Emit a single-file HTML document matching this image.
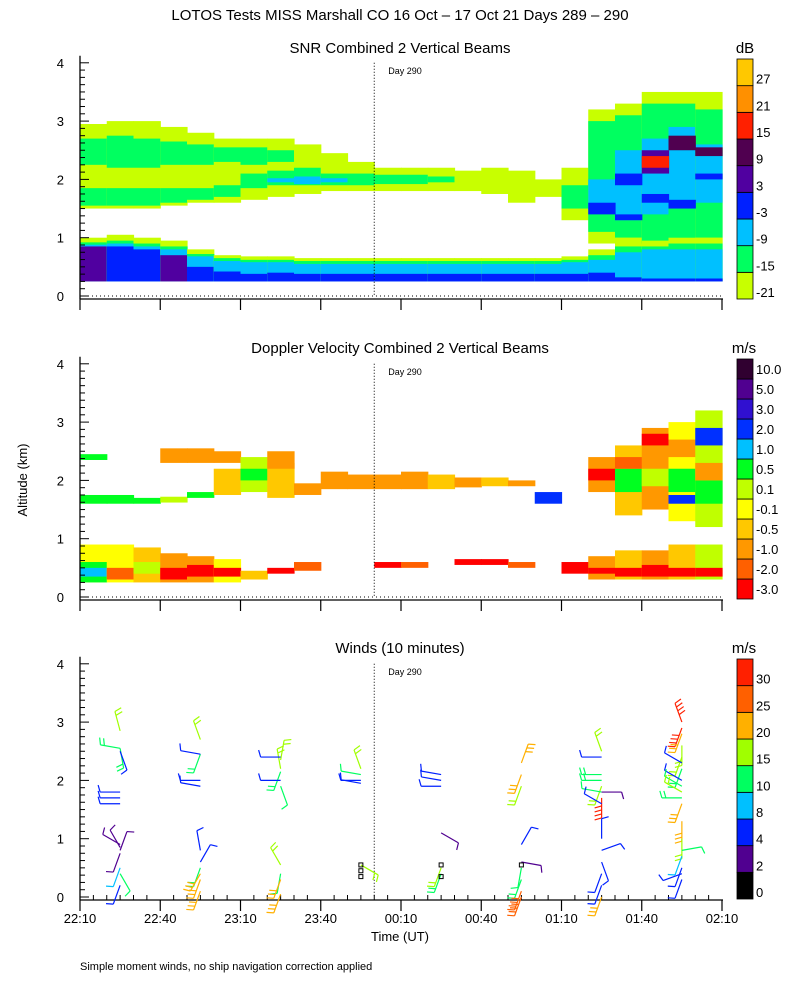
<!DOCTYPE html>
<html><head><meta charset="utf-8"><style>
html,body{margin:0;padding:0;background:#fff;}
svg{display:block;font-family:"Liberation Sans",sans-serif;}
</style></head><body>
<svg id="c" width="800" height="1000" viewBox="0 0 800 1000" xmlns="http://www.w3.org/2000/svg">
<text x="400" y="20" text-anchor="middle" font-size="15">LOTOS Tests MISS Marshall CO  16 Oct – 17 Oct 21 Days 289 – 290</text>
<text x="400" y="53" text-anchor="middle" font-size="15">SNR Combined 2 Vertical Beams</text>
<text x="400" y="353" text-anchor="middle" font-size="15">Doppler Velocity Combined 2 Vertical Beams</text>
<text x="400" y="653" text-anchor="middle" font-size="15">Winds (10 minutes)</text>
<text x="745" y="53" text-anchor="middle" font-size="15">dB</text>
<text x="744" y="353" text-anchor="middle" font-size="15">m/s</text>
<text x="744" y="653" text-anchor="middle" font-size="15">m/s</text>
<text transform="translate(27,480) rotate(-90)" text-anchor="middle" font-size="13">Altitude (km)</text>
<text x="400" y="941" text-anchor="middle" font-size="13">Time (UT)</text>
<text x="80" y="970" font-size="11">Simple moment winds, no ship navigation correction applied</text>
<g id="g"></g>
</svg>
<script>
// ---------- axes data ----------
const xTickLabels = ["22:10","22:40","23:10","23:40","00:10","00:40","01:10","01:40","02:10"];
const altTicks = [0,1,2,3,4];
const snrBarLabels = ["27","21","15","9","3","-3","-9","-15","-21"];
const dopBarLabels = ["10.0","5.0","3.0","2.0","1.0","0.5","0.1","-0.1","-0.5","-1.0","-2.0","-3.0"];
const windBarLabels = ["30","25","20","15","10","8","4","2","0"];
const windSpeedEdges = [2,4,8,10,15,20,25,30];

// ---------- SNR field (10-min columns starting 22:10) ----------
const snrBaseTop  = [1.0,1.05,1.0,0.95,0.8,0.7,0.68,0.68,0.65,0.65,0.65,0.65,0.65,0.65,0.65,0.65,0.65,0.65,0.68,0.8,1.0,0.95,1.0,1.0];
const snrBase1Top = [0.92,0.95,0.9,0.85,0.72,0.65,0.62,0.62,0.6,0.6,0.6,0.6,0.6,0.6,0.6,0.6,0.6,0.6,0.62,0.7,0.85,0.85,0.9,0.9];
const snrBase2Top = [0.88,0.9,0.85,0.8,0.68,0.6,0.58,0.58,0.55,0.55,0.55,0.55,0.55,0.55,0.55,0.55,0.55,0.55,0.58,0.62,0.75,0.8,0.8,0.8];
const snrBase3Top = [0.85,0.85,0.8,0.7,0.5,0.42,0.38,0.4,0.38,0.38,0.38,0.38,0.38,0.38,0.38,0.38,0.38,0.38,0.38,0.4,0.32,0.3,0.3,0.3];
const snrBase3Lev = [4,3,3,4,3,3,3,3,3,3,3,3,3,3,3,3,3,3,3,3,3,3,3,3];
const snrEnvBot = [1.5,1.5,1.5,1.55,1.6,1.6,1.65,1.7,1.75,1.8,1.8,1.8,1.8,1.8,1.8,1.75,1.6,1.7,1.3,0.9,0.9,0.8,0.8,0.9];
const snrEnvTop = [2.95,3.0,3.0,2.9,2.8,2.7,2.7,2.7,2.6,2.45,2.3,2.2,2.2,2.2,2.15,2.2,2.15,2.0,2.2,3.2,3.3,3.5,3.5,3.5];
const snrInBot  = [1.55,1.55,1.55,1.6,1.65,1.7,1.85,1.9,1.9,1.9,1.9,1.92,1.92,1.95,0,0,0,0,1.5,1.1,1.0,0.9,0.9,1.0];
const snrInTop  = [1.85,1.85,1.85,1.85,1.85,1.9,2.1,2.15,2.2,2.1,2.1,2.08,2.08,2.05,0,0,0,0,1.9,3.0,3.1,3.3,3.3,3.2];
const snrIn2Bot = [2.25,2.2,2.2,2.25,2.25,2.3,2.25,2.3,0,0,0,0,0,0,0,0,0,0,0,0,0,0,0,0];
const snrIn2Top = [2.7,2.75,2.7,2.65,2.6,2.55,2.55,2.5,0,0,0,0,0,0,0,0,0,0,0,0,0,0,0,0];
const snrCoreBot = [0,0,0,0,0,0,0,1.95,1.92,1.95,0,0,0,0,0,0,0,0,0,1.5,1.3,1.4,1.5,1.6];
const snrCoreTop = [0,0,0,0,0,0,0,2.02,2.05,2.02,0,0,0,0,0,0,0,0,0,2.0,2.5,2.7,2.9,2.6];
const snrSpotCol = [19,20,20,21,21,21,22,22,23,23];
const snrSpotBot = [1.4,1.9,1.3,2.1,2.2,1.6,2.5,1.5,2.4,2.0];
const snrSpotTop = [1.6,2.1,1.4,2.5,2.4,1.75,2.75,1.65,2.55,2.1];
const snrSpotLev = [3,3,3,4,6,3,5,3,5,3];

// ---------- Doppler field ----------
const dopCol = [0,0,1,2,3,4, 3,4,5,5,6,6,7,7,8, 9,10,11,12,13,14,15,16,17,
  19,19,20,20,20,21,21,21,22,22,22,22,23,23,23,23,
  0,0,0,1,1,2,2,3,3,4,4,5,5,6, 7,8,11,12,14,15,16,18, 19,19,20,20,21,21,22,22,23,23];
const dopBot = [2.35,1.6,1.6,1.6,1.62,1.7, 2.3,2.3,2.3,1.75,1.8,2.0,1.7,2.2,1.75, 1.85,1.85,1.85,1.85,1.85,1.88,1.9,1.9,1.6,
  1.8,2.0,1.4,1.8,2.2,1.5,1.9,2.6,1.3,1.8,2.4,1.6,1.2,1.6,2.6,2.0,
  0.25,0.25,0.35,0.25,0.3,0.25,0.4,0.25,0.3,0.25,0.35,0.25,0.35,0.3, 0.4,0.45,0.5,0.5,0.55,0.55,0.5,0.4, 0.3,0.4,0.3,0.35,0.3,0.35,0.3,0.35,0.3,0.35];
const dopTop = [2.45,1.75,1.75,1.7,1.72,1.8, 2.55,2.55,2.5,2.2,2.4,2.2,2.3,2.5,1.95, 2.15,2.1,2.1,2.15,2.1,2.05,2.05,2.0,1.8,
  2.4,2.2,2.6,2.2,2.4,2.9,2.2,2.8,3.0,2.2,2.7,1.75,3.2,2.0,2.9,2.3,
  0.9,0.6,0.5,0.9,0.5,0.85,0.6,0.75,0.5,0.7,0.55,0.65,0.5,0.45, 0.5,0.6,0.6,0.6,0.65,0.65,0.6,0.6, 0.7,0.5,0.8,0.5,0.8,0.55,0.9,0.5,0.9,0.5];
const dopLev = [6,6,6,6,5,6, 2,2,2,3,5,6,3,2,2, 2,2,2,2,3,2,3,2,8,
  2,0,3,6,1,2,5,0,4,6,2,8,5,6,8,2,
  4,6,7,4,1,3,5,2,0,2,0,4,0,3, 0,1,0,1,0,0,1,0, 2,0,3,0,2,0,3,0,5,0];

// ---------- Winds (profiles every 30 min from 22:25) ----------
const windTime  = [0,0,0,0,0,0,0,0,0,0,0,0,0,0, 1,1,1,1,1,1,1,1,1,1,1, 2,2,2,2,2,2,2,2,2,2, 3,3,3,3,3, 4,4,4,4,4,4, 5,5,5,5,5,5,5,5,5, 6,6,6,6,6,6,6,6,6,6,6,6,6,6,6, 7,7,7,7,7,7,7,7,7,7,7,7,7,7,7,7,7,7,7];
const windAlt   = [2.85,2.55,2.5,2.55,1.8,1.7,1.6,0.9,0.85,0.8,0.75,0.5,0.4,0.2, 2.7,2.45,2.45,2.0,1.9,0.8,0.6,0.5,0.4,0.3,0.1, 2.35,2.2,2.15,2.4,2.0,1.9,0.55,0.4,0.3,0.05, 2.2,2.1,2.0,1.95,0.55, 2.1,2.0,1.9,1.1,0.5,0.4, 2.3,2.1,1.9,0.9,0.6,0.5,0.3,0.1,0.0, 2.5,2.4,2.1,2.0,1.9,1.8,1.8,1.7,1.6,1.0,0.8,0.6,0.4,0.2,0.0, 3.0,2.9,2.8,2.6,2.4,2.3,2.2,2.0,1.9,1.8,1.7,1.6,1.3,1.0,0.8,0.7,0.5,0.4,0.3];
const windSpeed = [16,12,6,14,6,6,6,2,2,2,2,8,10,6, 16,14,6,6,6,6,4,14,22,22,22, 16,18,14,6,6,10,16,10,22,22, 16,10,6,6,16, 6,6,6,2,16,14, 22,22,18,6,2,10,14,28,28, 16,6,14,12,18,10,2,30,6,6,6,6,4,6,22, 30,30,20,16,16,6,12,6,10,18,12,20,20,16,10,8,6,4,6];
const windDir   = [345,170,160,280,270,270,270,300,330,20,200,200,150,200, 340,200,280,270,280,350,30,200,210,200,200, 10,350,200,270,270,160,330,190,200,200, 340,280,270,280,120, 280,280,270,120,200,200, 20,200,200,30,100,190,200,200,200, 340,270,270,270,200,280,90,180,300,0,70,160,200,200,200, 340,200,200,180,200,300,200,300,300,300,270,200,180,180,80,200,200,250,200];
const missTime = [3,3,3,4,4,5];
const missAlt  = [0.55,0.45,0.35,0.55,0.35,0.55];

// ---------- colours ----------
const snrColors = ["#c8ff00","#00ff60","#00c0ff","#0020ff","#5000a0","#500050","#ff2000","#ff9000","#ffc800"];
const dopColors = ["#ff0000","#ff6000","#ff9800","#ffc800","#ffff00","#c0ff00","#00ff20","#00c0ff","#0030ff","#3010d0","#500090","#300030"];
const windColors = ["#000000","#500090","#0020ff","#00c0ff","#00ff60","#a0ff00","#ffb000","#ff6000","#ff2000"];

const NS="http://www.w3.org/2000/svg";
const g=document.getElementById('g');
const X0=80, X1=722, PXM=(X1-X0)/240;
const KM=58.3;
const base=[296,597,897];
function xMin(m){return X0+m*PXM;}
function yAlt(p,a){return base[p]-a*KM;}
function el(tag,at,parent){const e=document.createElementNS(NS,tag);for(const k in at)e.setAttribute(k,at[k]);(parent||g).appendChild(e);return e;}
const COLW=10*PXM;
function cell(p,col,b,t,color,name){
  if(!(t>b))return;
  const r=el('rect',{x:xMin(col*10).toFixed(2),y:yAlt(p,t).toFixed(2),width:(COLW+0.6).toFixed(2),height:((t-b)*KM).toFixed(2),fill:color});
  
  
}
// SNR
for(let i=0;i<snrBaseTop.length;i++){
  cell(0,i,snrEnvBot[i],snrEnvTop[i],snrColors[0],'snr-upper-cell');
  cell(0,i,snrInBot[i],snrInTop[i],snrColors[1],'snr-upper-cell');
  cell(0,i,snrIn2Bot[i],snrIn2Top[i],snrColors[1],'snr-upper-cell');
  cell(0,i,snrCoreBot[i],snrCoreTop[i],snrColors[2],'snr-upper-cell');
  cell(0,i,0.25,snrBaseTop[i],snrColors[0],'snr-base-cell');
  cell(0,i,0.25,snrBase1Top[i],snrColors[1],'snr-base-cell');
  cell(0,i,0.25,snrBase2Top[i],snrColors[2],'snr-base-cell');
  cell(0,i,0.25,snrBase3Top[i],snrColors[snrBase3Lev[i]],'snr-base-cell');
}
for(let i=0;i<snrSpotCol.length;i++) cell(0,snrSpotCol[i],snrSpotBot[i],snrSpotTop[i],snrColors[snrSpotLev[i]],'snr-spot');
// Doppler
for(let i=0;i<dopCol.length;i++) cell(1,dopCol[i],dopBot[i],dopTop[i],dopColors[dopLev[i]],'doppler-cell');

// axes for each panel
for(let p=0;p<3;p++){
  const yb=base[p]+3;
  let e=el('line',{x1:X0,y1:yAlt(p,4.12),x2:X0,y2:yb,stroke:'#000','stroke-width':1.3});
  
  
  e=el('line',{x1:X0,y1:yb,x2:X1+1,y2:yb,stroke:'#000','stroke-width':1.3});
  
  
  for(let a=0;a<=4.01;a+=0.125){
    const major=Math.abs(a-Math.round(a))<0.01;
    e=el('line',{x1:X0,y1:yAlt(p,a),x2:X0+(major?9:5),y2:yAlt(p,a),stroke:'#000','stroke-width':1});
    
    
  }
  altTicks.forEach(a=>{
    const t=el('text',{x:X0-16,y:yAlt(p,a)+5,'font-size':13,'text-anchor':'end'});
    t.textContent=a;
    
    
  });
  xTickLabels.forEach((l,i)=>{
    e=el('line',{x1:xMin(i*30),y1:yb,x2:xMin(i*30),y2:yb+11,stroke:'#000','stroke-width':1.2});
    
    
  });
  if(p===2){
    for(let m=5;m<240;m+=5){ if(m%30===0)continue;
      e=el('line',{x1:xMin(m),y1:yb,x2:xMin(m),y2:yb-5,stroke:'#000','stroke-width':1});
      
      
    }
  } else {
    e=el('line',{x1:X0,y1:base[p],x2:X1,y2:base[p],stroke:'#000','stroke-width':1,'stroke-dasharray':'1,3'});
    
    
  }
  e=el('line',{x1:xMin(110),y1:yAlt(p,4),x2:xMin(110),y2:base[p],stroke:'#000','stroke-width':1,'stroke-dasharray':'1,2'});
  
  
  const d=el('text',{x:xMin(110)+14,y:yAlt(p,4)+11,'font-size':9});
  d.textContent='Day 290';
  
  
}
xTickLabels.forEach((l,i)=>{
  const t=el('text',{x:xMin(i*30),y:923,'font-size':13,'text-anchor':'middle'});
  t.textContent=l;
  
  
});

// colour bars
function colorbar(top,bottom,colors,labels,name,center){
  const n=colors.length,h=(bottom-top)/n;
  for(let k=0;k<n;k++){
    const r=el('rect',{x:737,y:bottom-(k+1)*h,width:16,height:h,fill:colors[k],stroke:'#000','stroke-width':0.8});
    
    
  }
  labels.forEach((l,k)=>{
    const yy=center? top+(k+0.5)*h+5 : top+(k+1)*h-2;
    const t=el('text',{x:756,y:yy,'font-size':13});
    t.textContent=l;
    
    
  });
}
colorbar(59,299,snrColors,snrBarLabels,'snr-colorbar',false);
colorbar(359,599,dopColors,dopBarLabels,'doppler-colorbar',true);
colorbar(659,899,windColors,windBarLabels,'winds-colorbar',false);

// winds
function speedColor(s){let k=0;while(k<windSpeedEdges.length&&s>=windSpeedEdges[k])k++;return windColors[Math.min(k,windColors.length-1)];}
for(let i=0;i<windTime.length;i++){
  const x=xMin(15+30*windTime[i]), y=yAlt(2,windAlt[i]);
  const r=windDir[i]*Math.PI/180, L=20;
  const ux=Math.sin(r), uy=-Math.cos(r);
  const ex=x+ux*L, ey=y+uy*L;
  const col=speedColor(windSpeed[i]);
  const gg=el('g',{stroke:col,'stroke-width':1.2,fill:'none'});
  
  
  el('line',{x1:x,y1:y,x2:ex,y2:ey},gg);
  const nb=Math.max(1,Math.round(windSpeed[i]/8));
  for(let b=0;b<nb;b++){
    const bx=ex-ux*b*4, by=ey-uy*b*4;
    el('line',{x1:bx,y1:by,x2:bx-uy*7+ux*2,y2:by+ux*7+uy*2},gg);
  }
}
for(let i=0;i<missTime.length;i++){
  const m=el('rect',{x:xMin(15+30*missTime[i])-2,y:yAlt(2,missAlt[i])-2,width:4,height:4,fill:'none',stroke:'#000','stroke-width':1});
  
  
}
</script>
</body></html>
